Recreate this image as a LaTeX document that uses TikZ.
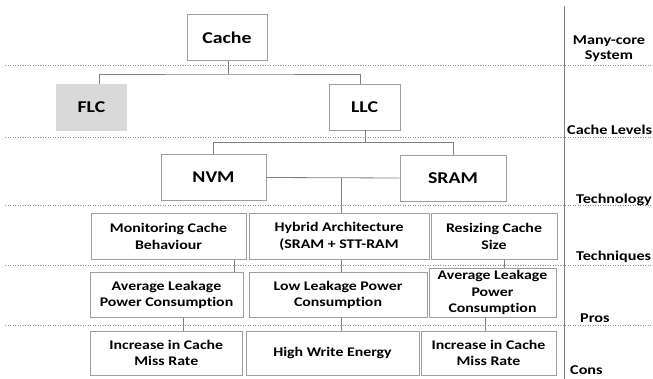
\documentclass[tikz,border=0pt]{standalone}
\usepackage{fontspec}
\setmainfont{Carlito}[FakeStretch=1.2,Ligatures=NoCommon]
\begin{document}
\begin{tikzpicture}[x=1pt,y=-1pt,
  box/.style={draw=black!38, line width=0.8pt, fill=white, align=center, inner sep=0pt,
    font=\fontsize{13.2}{16.5}\selectfont\bfseries},
  bigbox/.style={box, font=\fontsize{16.5}{18}\selectfont\bfseries},
  conn/.style={draw=black!50, line width=0.8pt},
  sep/.style={draw=black!45, line width=0.5pt, dotted},
  lbl/.style={anchor=west, inner sep=0pt, align=center, font=\fontsize{13.5}{15}\selectfont\bfseries}]
\useasboundingbox (0,0) rectangle (653,379);
% dotted separators
\coordinate (s1a) at (5,65);    \coordinate (s1b) at (653,65);
\coordinate (s2a) at (5,137);   \coordinate (s2b) at (653,137);
\coordinate (s3a) at (5,205.5); \coordinate (s3b) at (653,205.5);
\coordinate (s4a) at (5,265);   \coordinate (s4b) at (653,265);
\coordinate (s5a) at (5,325.5); \coordinate (s5b) at (653,325.5);
\draw[sep] (s1a) -- (s1b);
\draw[sep] (s2a) -- (s2b);
\draw[sep] (s3a) -- (s3b);
\draw[sep] (s4a) -- (s4b);
\draw[sep] (s5a) -- (s5b);
% vertical separator
\coordinate (vt) at (564.5,6);
\coordinate (vb) at (564.5,379);
\draw[draw=black!50, line width=0.8pt] (vt) -- (vb);
% boxes
\node[bigbox, minimum width=80pt, minimum height=46pt] (cache) at (227,37.3) {Cache};
\node[bigbox, draw=none, fill=black!15, minimum width=71pt, minimum height=47pt] (flc) at (91.5,107.5) {FLC};
\node[bigbox, minimum width=71pt, minimum height=46pt] (llc) at (364.5,107) {LLC};
\node[bigbox, minimum width=105pt, minimum height=46.5pt] (nvm) at (213.5,177.5) {NVM};
\node[bigbox, minimum width=106pt, minimum height=46pt] (sram) at (453,178) {SRAM};
\node[box, minimum width=155pt, minimum height=46pt] (mon) at (168.5,236.3) {Monitoring Cache\\Behaviour};
\node[box, minimum width=180pt, minimum height=46pt] (hyb) at (339,236.3) {Hybrid Architecture\\(SRAM + STT-RAM};
\node[box, minimum width=126pt, minimum height=46pt] (res) at (494,236.3) {Resizing Cache\\Size};
\node[box, minimum width=153pt, minimum height=45.5pt] (p1) at (166.5,295) {Average Leakage\\Power Consumption};
\node[box, minimum width=178pt, minimum height=45.5pt] (p2) at (338,295) {Low Leakage Power\\Consumption};
\node[box, minimum width=127pt, minimum height=49pt] (p3) at (492.5,292.5) {Average Leakage\\Power\\Consumption};
\node[box, minimum width=152.5pt, minimum height=44pt] (c1) at (166.3,353) {Increase in Cache\\Miss Rate};
\node[box, minimum width=173pt, minimum height=44pt] (c2) at (332.5,353) {High Write Energy};
\node[box, minimum width=135pt, minimum height=44pt] (c3) at (488.5,353) {Increase in Cache\\Miss Rate};
% connectors
\coordinate (j1) at (228.7,74);
\coordinate (j2) at (365.3,142.7);
\coordinate (j3) at (341.7,178);
\draw[conn] (cache.south -| j1) -- (j1);
\draw[conn] (flc.north -| 99.3,0) |- (j1) -| (llc.north -| 360.3,0);
\draw[conn] (llc.south -| j2) -- (j2);
\draw[conn] (nvm.north -| 213.3,0) |- (j2) -| (sram.north -| 453.7,0);
\draw[conn] (nvm.east) -- (sram.west);
\draw[conn] (j3) -- (hyb.north -| j3);
\draw[conn] (mon.south -| 234.5,0) -- (p1.north -| 234.5,0);
\draw[conn] (hyb.south -| j3) -- (p2.north -| j3);
\draw[conn] (res.south -| 504,0) -- (p3.north -| 504,0);
\draw[conn] (p1.south -| 183,0) -- (c1.north -| 183,0);
\draw[conn] (p2.south -| j3) -- (c2.north -| j3);
\draw[conn] (p3.south -| 485,0) -- (c3.north -| 485,0);
% right labels
\node[lbl, anchor=center] (l1) at (609,49) {Many-core\\System};
\node[lbl] (l2) at (567,130) {Cache Levels};
\node[lbl] (l3) at (576,199.5) {Technology};
\node[lbl] (l4) at (576,257) {Techniques};
\node[lbl] (l5) at (580,318) {Pros};
\node[lbl] (l6) at (570,370) {Cons};
\end{tikzpicture}
\end{document}
